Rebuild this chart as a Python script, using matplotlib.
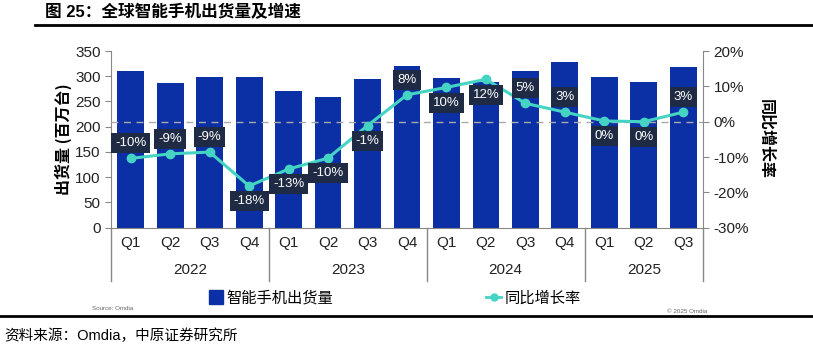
import matplotlib
matplotlib.use('Agg')
import matplotlib.pyplot as plt
from matplotlib.lines import Line2D
import numpy as np

plt.rcParams['font.family'] = ['Liberation Sans', 'Noto Sans CJK SC', 'DejaVu Sans']
cjk = ['Noto Sans CJK SC', 'DejaVu Sans']

quarters = ['Q1', 'Q2', 'Q3', 'Q4', 'Q1', 'Q2', 'Q3', 'Q4', 'Q1', 'Q2', 'Q3', 'Q4', 'Q1', 'Q2', 'Q3']
years = ['2022', '2023', '2024', '2025']
year_counts = [4, 4, 4, 3]
shipments = [311, 287, 298, 298, 270, 259, 295, 320, 297, 289, 310, 329, 298, 289, 318]
yoy = [-10.4, -9.1, -8.6, -18.2, -13.4, -10.3, -1.1, 7.6, 9.7, 12.0, 5.2, 2.7, 0.2, 0.0, 2.7]
label_above = [True, True, True, False, False, False, False, True, False, False, True, True, False, False, True]

bar_color = '#0b2fa5'
line_color = '#45d4c4'
box_color = '#1f2b44'
grey = '#888888'

fig = plt.figure(figsize=(8.13, 3.55), dpi=100)
ax = fig.add_axes([0.1365, 0.3586, 0.7282, 0.4977])
ax2 = ax.twinx()

x = np.arange(len(quarters))
ax.bar(x, shipments, width=0.68, color=bar_color, zorder=2)
ax.set_xlim(-0.5, len(quarters) - 0.5)
ax.set_ylim(0, 350)
ax.set_yticks(range(0, 351, 50))
ax.set_xticks(x)
ax.set_xticklabels(quarters, fontsize=11, color='#222222')
ax.tick_params(axis='x', length=0, pad=6)
ax.tick_params(axis='y', labelsize=11, colors='#222222', length=4, color=grey)
for s in ['top', 'right']:
    ax.spines[s].set_visible(False)
ax.spines['left'].set_color(grey)
ax.spines['bottom'].set_color(grey)
ax.set_ylabel('出货量 (百万台)', fontsize=11.5, fontweight='bold', labelpad=2, family=cjk)

ax2.plot(x, yoy, color=line_color, lw=2.2, marker='o', ms=6, zorder=3)
ax2.axhline(0, color='#aaaaaa', lw=1, ls=(0, (5, 4)), zorder=1)
ax2.set_ylim(-30, 20)
ax2.set_yticks(range(-30, 21, 10))
ax2.set_yticklabels([f'{v}%' for v in range(-30, 21, 10)])
ax2.tick_params(axis='y', labelsize=11, colors='#222222', length=4, color=grey)
for s in ['top', 'left', 'bottom']:
    ax2.spines[s].set_visible(False)
ax2.spines['right'].set_color(grey)
ax2.set_ylabel('同比增长率', fontsize=11.5, fontweight='bold', rotation=270, labelpad=18, family=cjk)

for xi, v, up in zip(x, yoy, label_above):
    ax2.annotate(f'{round(v):.0f}%', (xi, v), xytext=(0, 11 if up else -11),
                 textcoords='offset points', ha='center', va='center',
                 fontsize=9.5, color='white', zorder=5,
                 bbox=dict(boxstyle='square,pad=0.3', fc=box_color, ec='none'))

# year groups below the axis
trans = ax.get_xaxis_transform()
edges = np.concatenate([[0], np.cumsum(year_counts)]) - 0.5
for e in edges:
    ax.add_line(Line2D([e, e], [0, -0.3], transform=trans, color=grey, lw=1, clip_on=False))
for yr, a, b in zip(years, edges[:-1], edges[1:]):
    ax.text((a + b) / 2, -0.24, yr, transform=trans, ha='center', va='center',
            fontsize=11, color='#222222')

handles = [Line2D([], [], ls='none', marker='s', ms=10, color=bar_color),
           Line2D([], [], color=line_color, lw=2, marker='o', ms=5)]
fig.legend(handles, ['智能手机出货量', '同比增长率'], loc='center', bbox_to_anchor=(0.485, 0.16),
           ncol=2, frameon=False, prop={'family': cjk, 'size': 11}, columnspacing=10,
           handlelength=1.0, handletextpad=0.2)

fig.text(0.113, 0.132, 'Source: Omdia', fontsize=4.5, color='#666666', va='center')
fig.text(0.82, 0.122, '© 2025 Omdia', fontsize=4.5, color='#666666', va='center')

fig.text(0.055, 0.965, '图 25：全球智能手机出货量及增速', fontsize=12, fontweight='bold', va='center')
fig.add_artist(Line2D([0.043, 1.0], [0.93, 0.93], color='black', lw=2))
fig.add_artist(Line2D([0.0, 1.0], [0.11, 0.11], color='black', lw=2))
fig.text(0.005, 0.055, '资料来源：Omdia，中原证券研究所', fontsize=10.5, va='center')

fig.savefig('out.png', dpi=100, facecolor='white')
